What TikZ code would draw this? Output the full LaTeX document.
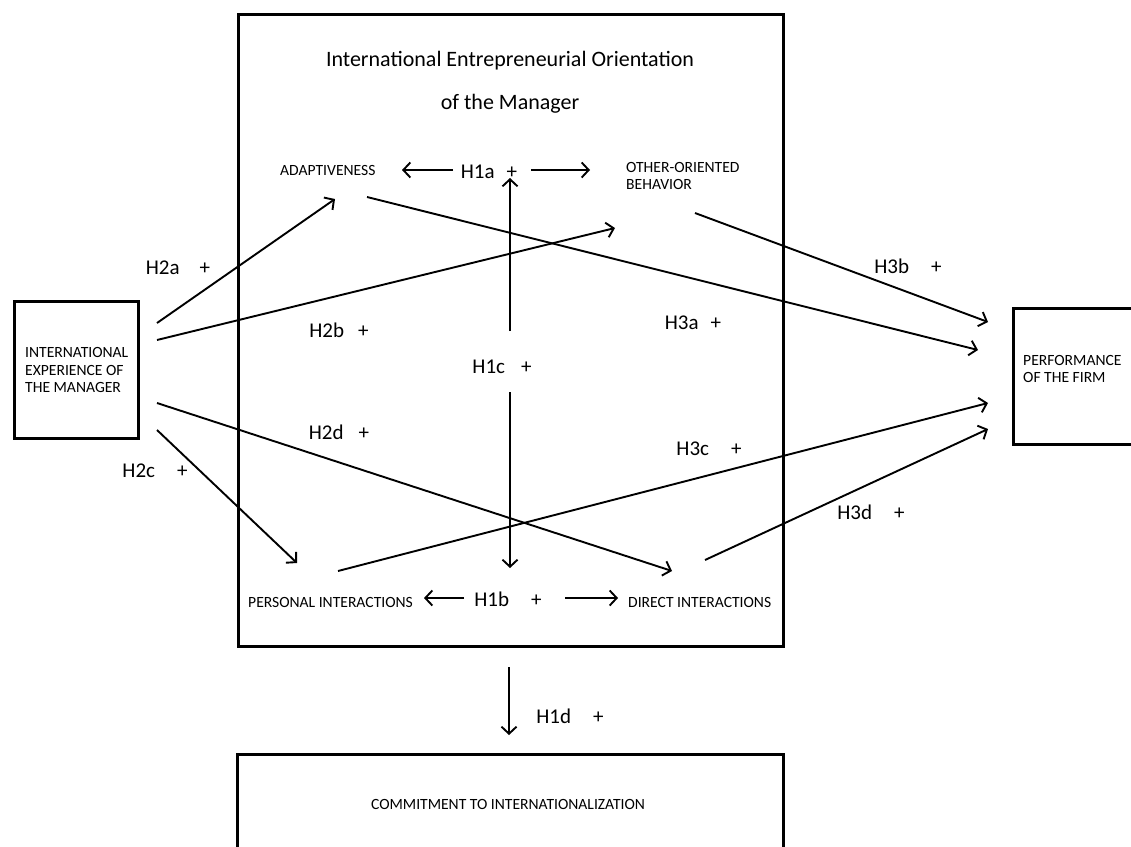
\documentclass[tikz,border=0pt]{standalone}
\usepackage{fontspec}
\setmainfont{Carlito}
\usetikzlibrary{arrows.meta}
\begin{document}
\begin{tikzpicture}[x=1pt,y=-1pt,
  box/.style={draw, line width=3.4pt, inner sep=0pt},
  conn/.style={line width=1.9pt, -{Straight Barb[length=7pt,width=15pt,line width=1.9pt]}},
  caps/.style={font=\fontsize{15.6}{17.5}\selectfont, inner sep=0pt, align=left},
  hyp/.style={font=\fontsize{21}{24}\selectfont, inner sep=0pt},
  ttl/.style={font=\fontsize{22}{26}\selectfont, inner sep=0pt}]
\useasboundingbox (0,0) rectangle (1131,846);
\clip (0,0) rectangle (1131,846);
% boxes
\node[box, anchor=north west, minimum width=545pt, minimum height=632pt] (iebox) at (237,13) {};
\node[box, anchor=north west, minimum width=124pt, minimum height=137pt] (expbox) at (13,300) {};
\node[box, anchor=north west, minimum width=140pt, minimum height=136pt] (perfbox) at (1012,307) {};
\node[box, anchor=north west, minimum width=546pt, minimum height=120pt] (combox) at (236,753) {};
% texts
\node[ttl] (t1) at (510,61) {International Entrepreneurial Orientation};
\node[ttl] (t2) at (510,104) {of the Manager};
\node[caps, anchor=west] (adapt) at (280,170) {ADAPTIVENESS};
\node[caps, anchor=west] (other) at (626,176) {OTHER-ORIENTED\\BEHAVIOR};
\node[caps, anchor=west] (pers) at (248,602) {PERSONAL INTERACTIONS};
\node[caps, anchor=west] (direct) at (628,602) {DIRECT INTERACTIONS};
\node[caps, anchor=west] (exp) at (25,370) {INTERNATIONAL\\EXPERIENCE OF\\THE MANAGER};
\node[caps, anchor=west] (perf) at (1023,369) {PERFORMANCE\\OF THE FIRM};
\node[caps] (commit) at (508,804) {COMMITMENT TO INTERNATIONALIZATION};
% hypotheses
\node[hyp] (h1a) at (489,172) {H1a\hspace{12pt}+};
\node[hyp] (h1b) at (508,599) {H1b\hspace{22pt}+};
\node[hyp] (h1c) at (502,367) {H1c\hspace{16pt}+};
\node[hyp] (h1d) at (570,716) {H1d\hspace{22pt}+};
\node[hyp] (h2a) at (178,268) {H2a\hspace{20pt}+};
\node[hyp] (h2b) at (339,330) {H2b\hspace{14pt}+};
\node[hyp] (h2c) at (155,471) {H2c\hspace{22pt}+};
\node[hyp] (h2d) at (339,432) {H2d\hspace{15pt}+};
\node[hyp] (h3a) at (693,323) {H3a\hspace{12pt}+};
\node[hyp] (h3b) at (908,266) {H3b\hspace{22pt}+};
\node[hyp] (h3c) at (709,449) {H3c\hspace{22pt}+};
\node[hyp] (h3d) at (871,512) {H3d\hspace{22pt}+};
% connector end points
\coordinate (h1aL0) at (453,170); \coordinate (h1aL1) at (402,170);
\coordinate (h1aR0) at (531,170); \coordinate (h1aR1) at (590,170);
\coordinate (h1bL0) at (464,598); \coordinate (h1bL1) at (424,598);
\coordinate (h1bR0) at (565,598); \coordinate (h1bR1) at (618,598);
\coordinate (h1cU0) at (510,331); \coordinate (h1cU1) at (510,178);
\coordinate (h1cD0) at (510,392); \coordinate (h1cD1) at (510,568);
\coordinate (h1d0) at (509,667); \coordinate (h1d1) at (509,735);
\coordinate (e1) at (157,323); \coordinate (e2) at (157,340);
\coordinate (e3) at (157,403); \coordinate (e4) at (157,430);
\coordinate (adaptIn) at (335,199); \coordinate (otherIn) at (615,228);
\coordinate (persIn) at (297,563); \coordinate (directIn) at (672,571);
\coordinate (adaptOut) at (367,197); \coordinate (otherOut) at (695,213);
\coordinate (persOut) at (338,571); \coordinate (directOut) at (705,560);
\coordinate (p1) at (988,322); \coordinate (p2) at (978,350);
\coordinate (p3) at (988,403); \coordinate (p4) at (988,429);
% connectors
\draw[conn] (h1aL0) -- (h1aL1);
\draw[conn] (h1aR0) -- (h1aR1);
\draw[conn] (h1bL0) -- (h1bL1);
\draw[conn] (h1bR0) -- (h1bR1);
\draw[conn] (h1cU0) -- (h1cU1);
\draw[conn] (h1cD0) -- (h1cD1);
\draw[conn] (h1d0) -- (h1d1);
\draw[conn] (e1) -- (adaptIn);
\draw[conn] (e2) -- (otherIn);
\draw[conn] (e3) -- (directIn);
\draw[conn] (e4) -- (persIn);
\draw[conn] (otherOut) -- (p1);
\draw[conn] (adaptOut) -- (p2);
\draw[conn] (persOut) -- (p3);
\draw[conn] (directOut) -- (p4);
\end{tikzpicture}
\end{document}
